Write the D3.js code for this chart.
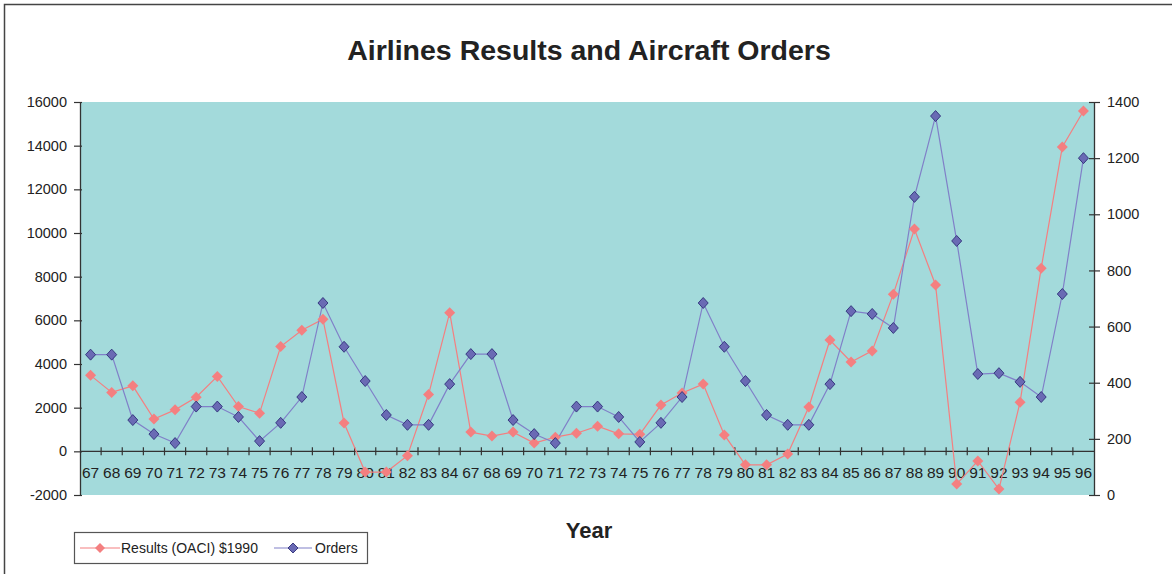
<!DOCTYPE html>
<html>
<head>
<meta charset="utf-8">
<script src="https://cdn.jsdelivr.net/npm/d3@7"></script>
<style>
  body { margin: 0; background: #fff; }
  text { font-family: "Liberation Sans", Arial, sans-serif; fill: #222; }
</style>
</head>
<body>
<div id="chart"></div>
<script>
// categories (two runs of years as in the source sheet)
var years = ["67","68","69","70","71","72","73","74","75","76","77","78","79","80","81","82","83","84",
             "67","68","69","70","71","72","73","74","75","76","77","78","79","80","81","82","83","84",
             "85","86","87","88","89","90","91","92","93","94","95","96"];

// Results (OACI) $1990 - left axis
var results = [3480, 2700, 3000, 1480, 1900, 2480, 3430, 2050, 1750, 4800, 5550, 6050, 1300, -950, -950, -200, 2600, 6350,
               880, 700, 880, 380, 650, 830, 1150, 800, 780, 2120, 2670, 3080, 750, -620, -620, -120, 2030,
               5100, 4090, 4600, 7200, 10180, 7620, -1500, -440, -1730, 2250, 8390, 13940, 15590];

// Orders - right axis
var orders = [500, 500, 267, 217, 185, 315, 315, 278, 192, 257, 349, 684, 528, 406, 285, 250, 250, 395,
              502, 502, 267, 217, 185, 315, 315, 278, 189, 257, 349, 684, 528, 406, 285, 250, 250,
              395, 655, 645, 595, 1062, 1350, 905, 431, 434, 403, 349, 716, 1200];

var leftTicks = [-2000, 0, 2000, 4000, 6000, 8000, 10000, 12000, 14000, 16000];
var rightTicks = [0, 200, 400, 600, 800, 1000, 1200, 1400];

var W = 1172, H = 574;
var plot = {left: 80, right: 1094, top: 102, bottom: 495};

var svg = d3.select("#chart").append("svg")
    .attr("width", W)
    .attr("height", H);

// outer chart frame (runs off the page on right/bottom)
svg.append("rect")
    .attr("x", 4.5).attr("y", 4.5)
    .attr("width", 1300).attr("height", 700)
    .attr("fill", "none")
    .attr("stroke", "#444")
    .attr("stroke-width", 1.5);

// title
svg.append("text")
    .attr("x", 589).attr("y", 60)
    .attr("text-anchor", "middle")
    .attr("font-size", "28.5px")
    .attr("font-weight", "bold")
    .text("Airlines Results and Aircraft Orders");

// scales
var x = d3.scaleBand().domain(d3.range(years.length)).range([plot.left, plot.right]);
var yL = d3.scaleLinear().domain([-2000, 16000]).range([plot.bottom, plot.top]);
var yR = d3.scaleLinear().domain([0, 1400]).range([plot.bottom, plot.top]);
var plain = function(d) { return String(d); };

// plot area
svg.append("rect")
    .attr("x", plot.left).attr("y", plot.top)
    .attr("width", plot.right - plot.left)
    .attr("height", plot.bottom - plot.top)
    .attr("fill", "#A3DADB");

// left axis
var gL = svg.append("g")
    .attr("transform", "translate(" + plot.left + ",0)")
    .call(d3.axisLeft(yL).tickValues(leftTicks).tickFormat(plain)
      .tickSizeInner(6).tickSizeOuter(0).tickPadding(7));
gL.selectAll(".tick line").attr("x2", -6).attr("x1", 2);
gL.selectAll("text").attr("font-size", "14.5px").attr("font-family", null);

// right axis
var gR = svg.append("g")
    .attr("transform", "translate(" + plot.right + ",0)")
    .call(d3.axisRight(yR).tickValues(rightTicks).tickFormat(plain)
      .tickSizeInner(6).tickSizeOuter(0).tickPadding(7));
gR.selectAll(".tick line").attr("x1", -5).attr("x2", 6);
gR.selectAll("text").attr("font-size", "14.5px").attr("font-family", null);

[gL, gR].forEach(function(g) {
  g.select(".domain").attr("stroke", "#333").attr("stroke-width", 1.3);
  g.selectAll(".tick line").attr("stroke", "#333").attr("stroke-width", 1.2);
  g.selectAll("text").attr("fill", "#222");
});

// x axis at y = 0 of the left scale
var y0 = yL(0);
var gX = svg.append("g").attr("transform", "translate(0," + y0 + ")");
gX.append("line")
    .attr("x1", plot.left).attr("x2", plot.right)
    .attr("stroke", "#333").attr("stroke-width", 1.3);
gX.selectAll(".xtick")
    .data(d3.range(1, years.length))
    .enter().append("line")
    .attr("x1", function(i) { return x(i); })
    .attr("x2", function(i) { return x(i); })
    .attr("y1", -4).attr("y2", 4)
    .attr("stroke", "#333").attr("stroke-width", 1.2);
gX.selectAll(".xlabel")
    .data(years)
    .enter().append("text")
    .attr("x", function(d, i) { return x(i) + x.bandwidth() / 2; })
    .attr("y", 27)
    .attr("text-anchor", "middle")
    .attr("font-size", "15.5px")
    .text(function(d) { return d; });

// axis title
svg.append("text")
    .attr("x", 589).attr("y", 538)
    .attr("text-anchor", "middle")
    .attr("font-size", "22px")
    .attr("font-weight", "bold")
    .text("Year");

function diamond(w, h) {
  return "M0," + (-h) + "L" + w + ",0L0," + h + "L" + (-w) + ",0Z";
}

var redCol = "#F47F80", blueLine = "#8080C8", blueFill = "#6A6AB4", blueEdge = "#2E2E78";

// results series
var lineR = d3.line()
    .x(function(d, i) { return x(i) + x.bandwidth() / 2; })
    .y(function(d) { return yL(d); });
svg.append("path")
    .datum(results)
    .attr("d", lineR)
    .attr("fill", "none")
    .attr("stroke", redCol)
    .attr("stroke-width", 1.2);

// orders series
var lineO = d3.line()
    .x(function(d, i) { return x(i) + x.bandwidth() / 2; })
    .y(function(d) { return yR(d); });
svg.append("path")
    .datum(orders)
    .attr("d", lineO)
    .attr("fill", "none")
    .attr("stroke", blueLine)
    .attr("stroke-width", 1.2);

svg.selectAll(".mr")
    .data(results)
    .enter().append("path")
    .attr("transform", function(d, i) { return "translate(" + (x(i) + x.bandwidth() / 2) + "," + yL(d) + ")"; })
    .attr("d", diamond(5.5, 5.5))
    .attr("fill", redCol);

svg.selectAll(".mo")
    .data(orders)
    .enter().append("path")
    .attr("transform", function(d, i) { return "translate(" + (x(i) + x.bandwidth() / 2) + "," + yR(d) + ")"; })
    .attr("d", diamond(5, 5.5))
    .attr("fill", blueFill)
    .attr("stroke", blueEdge)
    .attr("stroke-width", 0.9);

// legend
var lg = svg.append("g").attr("transform", "translate(74,532)");
lg.append("rect")
    .attr("x", 0.5).attr("y", 0.5)
    .attr("width", 293).attr("height", 31)
    .attr("fill", "#fff")
    .attr("stroke", "#555")
    .attr("stroke-width", 1.2);
lg.append("line").attr("x1", 6).attr("x2", 46).attr("y1", 16).attr("y2", 16)
    .attr("stroke", redCol).attr("stroke-width", 1.2);
lg.append("path").attr("transform", "translate(26,16)").attr("d", diamond(5, 5)).attr("fill", redCol);
lg.append("text").attr("x", 47).attr("y", 21).attr("font-size", "14px").text("Results (OACI) $1990");
lg.append("line").attr("x1", 200).attr("x2", 238).attr("y1", 16).attr("y2", 16)
    .attr("stroke", blueLine).attr("stroke-width", 1.2);
lg.append("path").attr("transform", "translate(219,16)").attr("d", diamond(5, 5))
    .attr("fill", blueFill).attr("stroke", blueEdge).attr("stroke-width", 0.9);
lg.append("text").attr("x", 241).attr("y", 21).attr("font-size", "14px").text("Orders");
</script>
</body>
</html>
